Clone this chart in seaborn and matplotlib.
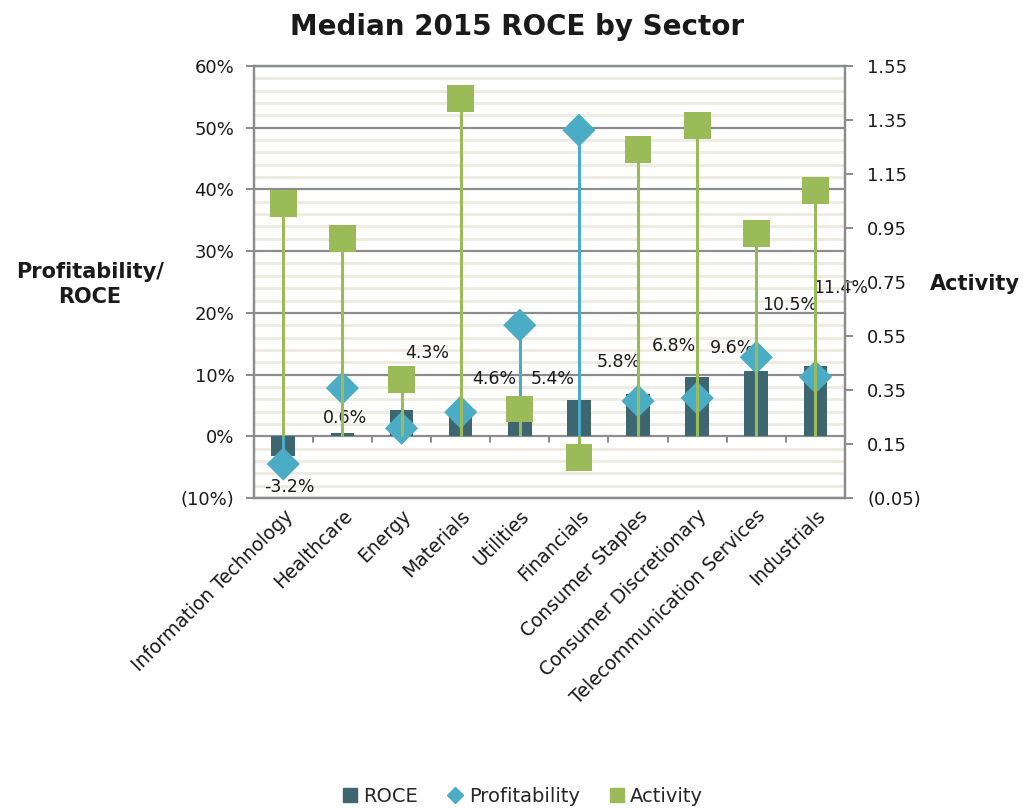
import matplotlib
matplotlib.use("Agg")
import matplotlib.pyplot as plt
from matplotlib.lines import Line2D
from matplotlib.ticker import FuncFormatter, MultipleLocator
import numpy as np
import pandas as pd
import seaborn as sns

sns.set_theme(style="white")
plt.rcParams["font.family"] = ["DejaVu Sans"]

sectors = ["Information Technology", "Healthcare", "Energy", "Materials", "Utilities",
           "Financials", "Consumer Staples", "Consumer Discretionary",
           "Telecommunication Services", "Industrials"]
roce = [-3.2, 0.6, 4.3, 4.6, 5.4, 5.8, 6.8, 9.6, 10.5, 11.4]
profitability = [-4.5, 7.8, 1.3, 3.9, 18.0, 49.6, 5.7, 6.2, 12.8, 9.6]
activity = [1.04, 0.91, 0.39, 1.43, 0.28, 0.10, 1.24, 1.33, 0.93, 1.09]

# where each value label sits relative to its bar (category units, percentage points)
label_dx = [0.10, 0.05, 0.43, 0.56, 0.56, 0.68, 0.61, 0.59, 0.56, 0.42]
label_dy = [-5.1, 2.3, 9.2, 4.6, 3.8, 6.2, 7.8, 4.7, 10.7, 12.7]

C_BAR = "#3E6670"
C_PROF = "#4BACC6"
C_ACT = "#9BBB59"
C_GRID = "#8C8C8C"
C_MINOR = "#EEEBE0"
C_TEXT = "#1a1a1a"

df = pd.DataFrame({"sector": sectors, "roce": roce,
                   "profitability": profitability, "activity": activity})
x = np.arange(len(sectors))

L_LO, L_HI = -10, 60
R_LO, R_HI = -0.05, 1.55

fig = plt.figure(figsize=(10.23, 8.08), dpi=100)
ax = fig.add_axes([0.248, 0.3837, 0.578, 0.5346])
ax2 = ax.twinx()

ax.set_ylim(L_LO, L_HI)
ax2.set_ylim(R_LO, R_HI)
ax.set_xlim(-0.5, len(sectors) - 0.5)

# gridlines: minor every 2 %, major every 10 %
for v in np.arange(L_LO, L_HI + 0.1, 2):
    if abs(v % 10) > 1e-9:
        ax.axhline(v, color=C_MINOR, lw=2.0, zorder=0)
for v in np.arange(L_LO, L_HI + 0.1, 10):
    ax.axhline(v, color=C_GRID, lw=1.6, zorder=0.5)

# category boundary ticks on the zero line
for b in np.arange(0.5, len(sectors) - 0.5, 1):
    ax.plot([b, b], [0, -0.9], color=C_GRID, lw=1.4, zorder=0.6, clip_on=False)

sns.barplot(data=df, x="sector", y="roce", color=C_BAR, width=0.4,
            saturation=1, ax=ax, zorder=2)
for p in ax.patches:
    p.set_edgecolor("none")

# value labels sit under the drop lines and markers
for i, v in enumerate(roce):
    ax.text(i + label_dx[i], v + label_dy[i], f"{v:.1f}%", fontsize=12.5,
            color=C_TEXT, ha="center", va="center", zorder=2.5)

# drop lines for profitability to the category axis, then diamonds
ax.vlines(x, 0, df["profitability"], color=C_PROF, lw=2.2, zorder=3)
sns.scatterplot(x=x, y=df["profitability"], marker="D", s=285, color=C_PROF,
                edgecolor="none", ax=ax, zorder=4, legend=False)

# activity on secondary axis, drop lines to the zero level of the primary axis
base = R_LO + (0 - L_LO) / (L_HI - L_LO) * (R_HI - R_LO)
ax2.set_zorder(ax.get_zorder() + 1)
ax2.patch.set_visible(False)
ax2.vlines(x, base, df["activity"], color=C_ACT, lw=2.2, zorder=5)
sns.scatterplot(x=x, y=df["activity"], marker="s", s=370, color=C_ACT,
                edgecolor="none", ax=ax2, zorder=6, legend=False)
ax2.set_xlim(-0.5, len(sectors) - 0.5)

# axes formatting
def pct(v, _):
    return f"({abs(v):.0f}%)" if v < 0 else f"{v:.0f}%"

def dec(v, _):
    return f"({abs(v):.2f})" if v < 0 else f"{v:.2f}"

ax.yaxis.set_major_locator(MultipleLocator(10))
ax.yaxis.set_major_formatter(FuncFormatter(pct))
ax2.set_yticks(np.round(np.arange(R_LO, R_HI + 0.01, 0.2), 2))
ax2.yaxis.set_major_formatter(FuncFormatter(dec))

for a in (ax, ax2):
    for s in a.spines.values():
        s.set_color(C_GRID)
        s.set_linewidth(1.6)
ax.tick_params(axis="y", which="major", length=6, width=1.4, color=C_GRID,
               labelsize=13, labelcolor=C_TEXT, pad=8, left=True)
ax2.tick_params(axis="y", which="major", length=6, width=1.4, color=C_GRID,
                labelsize=13, labelcolor=C_TEXT, pad=10, right=True)
ax.tick_params(axis="x", length=0, labelsize=13.5, labelcolor=C_TEXT, pad=6)
ax.set_xticks(x)
ax.set_xticklabels(sectors, rotation=45, ha="right", rotation_mode="anchor")
ax.set_xlabel("")
ax.set_ylabel("")
ax2.set_ylabel("")

fig.text(0.088, 0.648, "Profitability/\nROCE", fontsize=15, fontweight="bold",
         ha="center", va="center", color=C_TEXT, linespacing=1.3)
fig.text(0.953, 0.648, "Activity", fontsize=15, fontweight="bold",
         ha="center", va="center", color=C_TEXT)
fig.text(0.505, 0.967, "Median 2015 ROCE by Sector", fontsize=20,
         fontweight="bold", ha="center", va="center", color=C_TEXT)

handles = [
    Line2D([], [], marker="s", ls="none", color=C_BAR, markersize=10),
    Line2D([], [], marker="D", ls="none", color=C_PROF, markersize=8),
    Line2D([], [], marker="s", ls="none", color=C_ACT, markersize=10),
]
fig.legend(handles, ["ROCE", "Profitability", "Activity"], loc="center",
           bbox_to_anchor=(0.51, 0.014), ncol=3, frameon=False, fontsize=14,
           handletextpad=0.2, columnspacing=1.4, handlelength=1.0)

fig.savefig("out.png", dpi=100)
